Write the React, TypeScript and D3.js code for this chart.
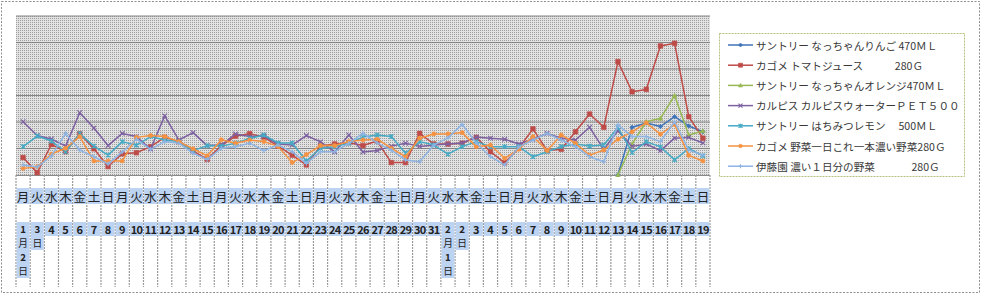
import React from "react";
import * as d3 from "d3";

const weekdays = [
  "月","火","水","木","金","土","日",
  "月","火","水","木","金","土","日",
  "月","火","水","木","金","土","日",
  "月","火","水","木","金","土","日",
  "月","火","水","木","金","土","日",
  "月","火","水","木","金","土","日",
  "月","火","水","木","金","土","日",
];

const dateLabels = [
  "1月2日","3日","4","5","6","7","8","9","10","11","12","13","14","15","16","17","18","19","20","21",
  "22","23","24","25","26","27","28","29","30","31",
  "2月1日","2日","3","4","5","6","7","8","9","10","11","12","13","14","15","16","17","18","19",
];

const seriesNames = [
  "サントリー なっちゃんりんご 470ＭＬ",
  "カゴメ トマトジュース　　　280Ｇ",
  "サントリー なっちゃんオレンジ470ＭＬ",
  "カルピス カルピスウォーターＰＥＴ５００",
  "サントリー はちみつレモン　 500ＭＬ",
  "カゴメ 野菜一日これ一本濃い野菜280Ｇ",
  "伊藤園 濃い１日分の野菜　　　  280Ｇ",
];

const seriesColors = ["#3f74b8", "#be4b48", "#98b954", "#7d60a0", "#46aac5", "#f69240", "#8eb4e3"];
const seriesMarkers = ["diamond", "square", "triangle", "x", "star", "circle", "plus"];

const ringo: (number | null)[] = [
  null, null, null, null, null, null, null, null, null, null,
  null, null, null, null, null, null, null, null, null, null,
  null, null, null, null, null, null, null, null, null, null,
  null, null, null, null, null, null, null, null, null, null,
  null, null, 0, 180, 196, 183, 220, 185, 163,
];
const tomato: (number | null)[] = [
  66, 9, 115, 88, 156, 99, 32, 80, 84, 107, 142, 126, 91, 59, 111, 147, 156, 143, 109, 75,
  38, 109, 117, 122, 111, 128, 47, 47, 157, 117, 117, 120, 142, 88, 46, 101, 174, 92, 97, 163,
  230, 180, 428, 314, 323, 487, 497, 220, 139,
];
const orange: (number | null)[] = [
  null, null, null, null, null, null, null, null, null, null,
  null, null, null, null, null, null, null, null, null, null,
  null, null, null, null, null, null, null, null, null, null,
  null, null, null, null, null, null, null, null, null, null,
  null, null, 0, 117, 201, 214, 300, 151, 166,
];
const calpis: (number | null)[] = [
  201, 149, 136, 109, 235, 177, 111, 157, 145, 98, 223, 132, 160, 111, 113, 155, 145, 147, 117, 113,
  149, 125, 87, 151, 87, 92, 109, 120, 108, 113, 117, 121, 143, 139, 135, 117, 135, 157, 139, 132,
  180, 97, 167, 108, 117, 92, 139, 142, 121,
];
const lemon: (number | null)[] = [
  107, 147, 128, 88, 156, 109, 75, 126, 112, 145, 132, 126, 92, 111, 109, 120, 138, 151, 121, 121,
  53, 101, 107, 120, 143, 151, 145, 82, 126, 113, 79, 107, 126, 107, 107, 107, 69, 88, 107, 117,
  109, 113, 179, 85, 126, 106, 57, 100, 72,
];
const yasai: (number | null)[] = [
  25, 31, 79, 101, 145, 53, 53, 53, 142, 149, 145, 126, 99, 72, 133, 120, 132, 126, 108, 47,
  77, 111, 111, 126, 132, 135, 101, 69, 139, 155, 155, 160, 107, 113, 63, 97, 145, 92, 151, 120,
  75, 94, 135, 163, 197, 154, 191, 74, 53,
];
const itoen: (number | null)[] = [
  38, 30, 72, 157, 94, 69, 42, 87, 135, 97, 126, 120, 82, 59, 101, 107, 120, 92, 113, 88,
  44, 88, 88, 120, 157, 121, 94, 57, 50, 113, 140, 191, 121, 69, 38, 106, 132, 157, 132, 107,
  69, 50, 189, 145, 145, 126, 201, 94, 75,
];

const seriesValues = [ringo, tomato, orange, calpis, lemon, yasai, itoen];
const yDomain = [0, 600];

const W = 984, H = 295;
const PX0 = 16, PX1 = 710, PY0 = 175, PY1 = 16;
const SEP_BOTTOM = 287;

function markerPath(type: string, r: number): { d: string; fill: boolean } {
  switch (type) {
    case "diamond":
      return { d: `M0,${-r}L${r},0L0,${r}L${-r},0Z`, fill: true };
    case "square":
      return { d: `M${-r},${-r}h${2 * r}v${2 * r}h${-2 * r}Z`, fill: true };
    case "triangle":
      return { d: `M0,${-r}L${r},${r * 0.8}L${-r},${r * 0.8}Z`, fill: true };
    case "x":
      return { d: `M${-r},${-r}L${r},${r}M${-r},${r}L${r},${-r}`, fill: false };
    case "star":
      return { d: `M${-r},${-r}L${r},${r}M${-r},${r}L${r},${-r}M0,${-r}L0,${r}`, fill: false };
    case "plus":
      return { d: `M${-r},0L${r},0M0,${-r}L0,${r}`, fill: false };
    default:
      return { d: d3.arc()({ innerRadius: 0, outerRadius: r * 0.9, startAngle: 0, endAngle: Math.PI * 2 }) || "", fill: true };
  }
}

function Marker({ type, color, x, y, r }: { type: string; color: string; x: number; y: number; r: number }) {
  const m = markerPath(type, r);
  return (
    <path
      d={m.d}
      transform={`translate(${x},${y})`}
      fill={m.fill ? color : "none"}
      stroke={color}
      strokeWidth={m.fill ? 0.6 : 1.1}
    />
  );
}

export default function App() {
  const n = weekdays.length;
  const x = d3.scaleBand<number>().domain(d3.range(n)).range([PX0, PX1]).paddingInner(0).paddingOuter(0);
  const bw = x.bandwidth();
  const cx = (i: number) => (x(i) as number) + bw / 2;
  const y = d3.scaleLinear().domain(yDomain).range([PY0, PY1]);
  const grid = y.ticks(6).filter((t) => t > 0);

  const line = d3
    .line<number | null>()
    .defined((d) => d != null)
    .x((_, i) => cx(i))
    .y((d) => y(d as number));

  const font = "'Noto Sans CJK JP', 'Noto Sans', sans-serif";
  const hl = "#bcd3f2";

  return (
    <svg
      width={W}
      height={H}
      style={{ position: "absolute", left: 0, top: 0, background: "#fff" }}
      fontFamily={font}
    >
      <defs>
        <pattern id="dots" width="2" height="2" patternUnits="userSpaceOnUse">
          <rect width="2" height="2" fill="#e2e2e2" />
          <rect x="0" y="0" width="1" height="1" fill="#9e9e9e" />
        </pattern>
        <clipPath id="plotClip">
          <rect x={PX0} y={PY1 - 2} width={PX1 - PX0} height={PY0 - PY1 + 4} />
        </clipPath>
      </defs>

      {/* chart border */}
      <rect x={1.5} y={1.5} width={978} height={291} fill="#fff" stroke="#8f8f8f" strokeDasharray="2,1.5" />

      {/* plot area */}
      <rect x={PX0} y={PY1} width={PX1 - PX0} height={PY0 - PY1} fill="url(#dots)" />
      {grid.map((t) => (
        <line key={t} x1={PX0} x2={PX1} y1={y(t)} y2={y(t)} stroke="#858585" strokeWidth={1} />
      ))}
      <line x1={PX0} x2={PX1} y1={PY0 + 0.5} y2={PY0 + 0.5} stroke="#8a8a8a" strokeWidth={1} />

      {/* category separators */}
      {d3.range(n + 1).map((i) => {
        const xx = i < n ? (x(i) as number) : PX1;
        return (
          <line
            key={i}
            x1={xx}
            x2={xx}
            y1={PY0}
            y2={SEP_BOTTOM}
            stroke="#9a9a9a"
            strokeWidth={1.2}
            strokeDasharray="2,1"
          />
        );
      })}

      {/* weekday labels */}
      {weekdays.map((w, i) => (
        <g key={"w" + i}>
          <rect x={cx(i) - 6.5} y={188} width={13} height={16} fill={hl} />
          <text x={cx(i)} y={196} textAnchor="middle" dominantBaseline="central" fontSize={12.5} fill="#222">
            {w}
          </text>
        </g>
      ))}

      {/* date labels */}
      {dateLabels.map((lab, i) => {
        const lines = /[月日]/.test(lab) ? lab.split("") : [lab];
        return (
          <g key={"d" + i}>
            <rect x={cx(i) - 6.5} y={222} width={13} height={lines.length * 14} fill={hl} />
            {lines.map((s, k) => {
              const kanji = /[月日]/.test(s);
              return (
                <text
                  key={k}
                  x={cx(i)}
                  y={229 + k * 14}
                  textAnchor="middle"
                  dominantBaseline="central"
                  fontSize={kanji ? 9.7 : lines.length > 1 ? 9.7 : 11}
                  fontWeight={kanji ? "normal" : "bold"}
                  letterSpacing={s.length > 1 ? -0.8 : 0}
                  fill="#222"
                >
                  {s}
                </text>
              );
            })}
          </g>
        );
      })}

      {/* series */}
      <g clipPath="url(#plotClip)">
        {seriesValues.map((vals, s) => (
          <g key={"s" + s}>
            <path d={line(vals) || ""} fill="none" stroke={seriesColors[s]} strokeWidth={1.5} strokeLinejoin="round" />
            {vals.map((v, i) =>
              v == null ? null : (
                <Marker key={i} type={seriesMarkers[s]} color={seriesColors[s]} x={cx(i)} y={y(v)} r={2.3} />
              )
            )}
          </g>
        ))}
      </g>

      {/* legend */}
      <rect x={719.5} y={33.5} width={245} height={143} fill="#fff" stroke="#b6bf7c" strokeDasharray="2,1" />
      {seriesNames.map((name, s) => {
        const ly = 45 + s * 20.2;
        return (
          <g key={"l" + s}>
            <line x1={728} x2={753} y1={ly} y2={ly} stroke={seriesColors[s]} strokeWidth={1.5} />
            <Marker type={seriesMarkers[s]} color={seriesColors[s]} x={740.5} y={ly} r={2} />
            <text
              x={756}
              y={ly}
              dominantBaseline="central"
              fontSize={10.6}
              fill="#383838"
              style={{ whiteSpace: "pre" }}
            >
              {name}
            </text>
          </g>
        );
      })}
    </svg>
  );
}
